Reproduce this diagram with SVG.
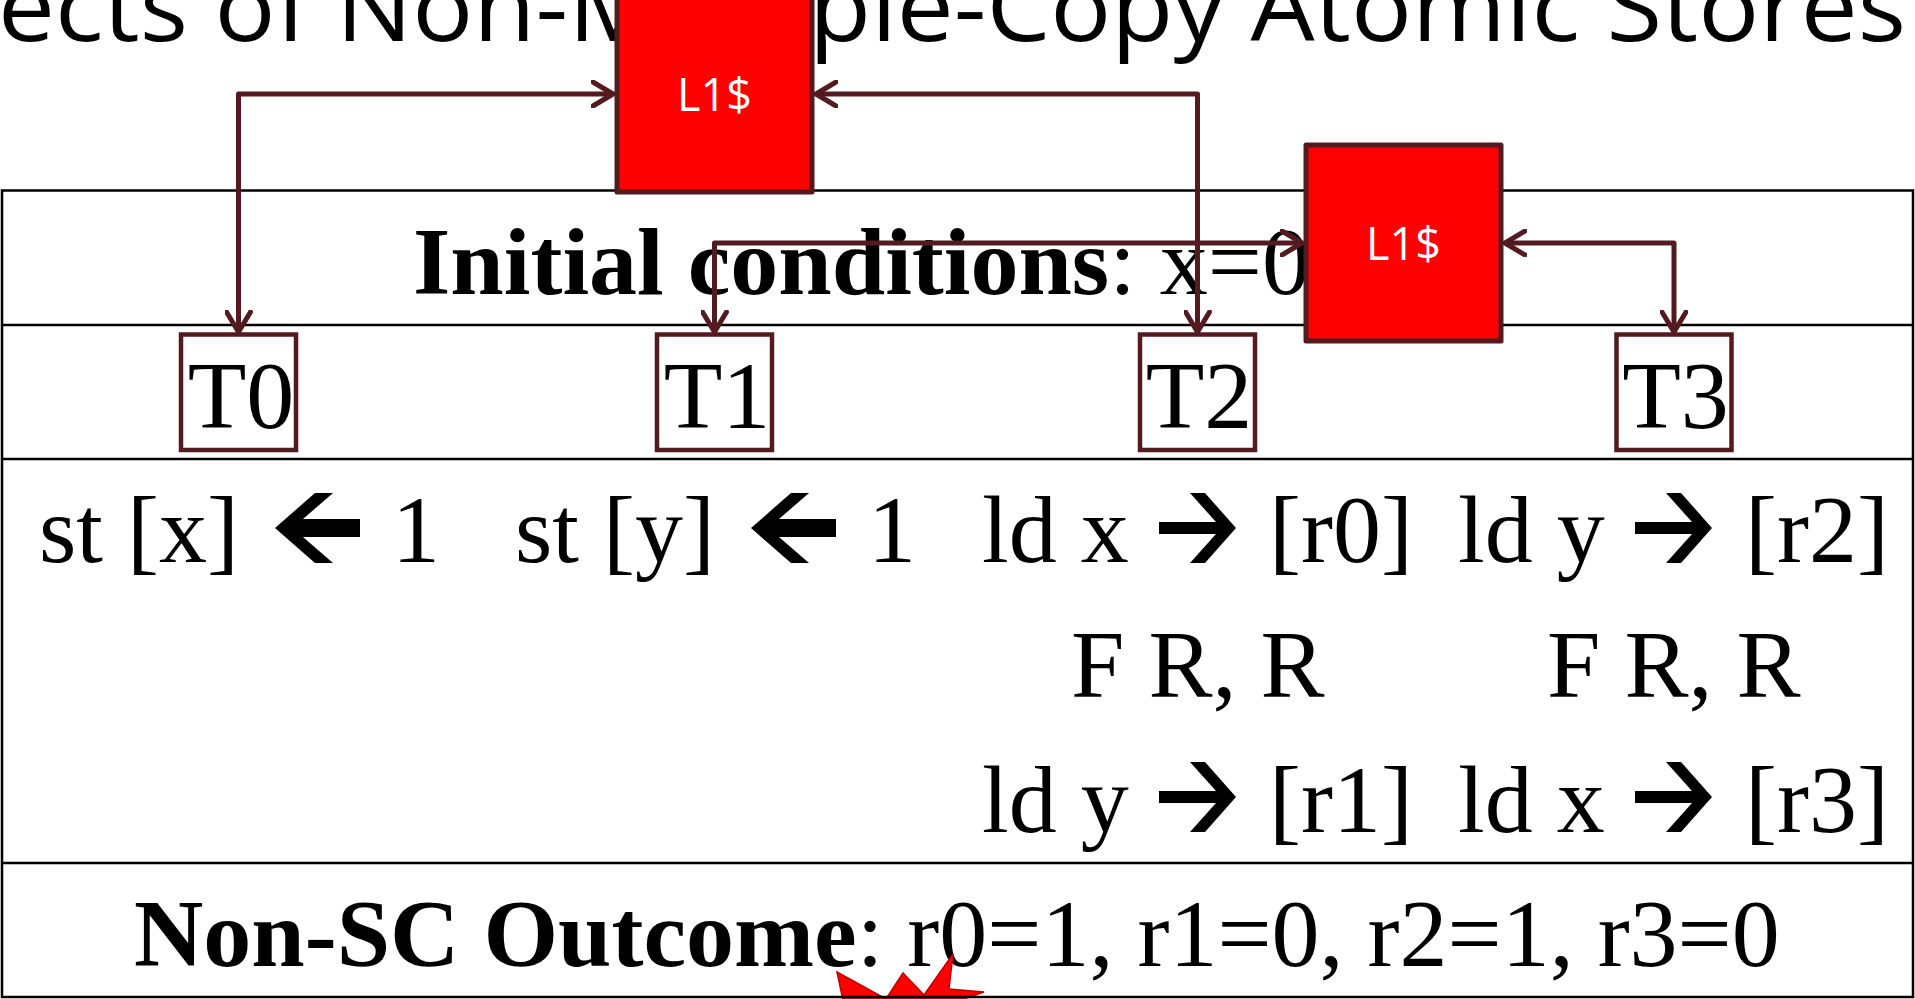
<svg xmlns="http://www.w3.org/2000/svg" width="1915" height="999" viewBox="0 0 1915 999">
<style>
.title{font-family:"Open Sans","Liberation Sans",sans-serif;font-weight:400;font-size:96px;fill:#000}
.tt{font-family:"Liberation Serif","Times New Roman",serif;font-size:96px;fill:#000}
.b{font-weight:bold}
.grid{stroke:#000;stroke-width:2.5;fill:none}
.conn{stroke:#531B1F;stroke-width:5;fill:none;stroke-linejoin:round}
.tbox{fill:#fff;stroke:#531B1F;stroke-width:4.5}
.cache{fill:#FF0000;stroke:#531B1F;stroke-width:5;stroke-linejoin:round}
.ctext{font-family:"Open Sans","Liberation Sans",sans-serif;font-size:45px;fill:#fff;text-anchor:middle}
.ttext{text-anchor:middle}
</style>
<defs>
<marker id="ah" viewBox="-22 -14 26 28" markerWidth="26" markerHeight="28" refX="0" refY="0" markerUnits="userSpaceOnUse" orient="auto-start-reverse">
<path d="M-20,-12 L0,0 L-20,12" fill="none" stroke="#531B1F" stroke-width="5" stroke-linecap="round" stroke-linejoin="round"/>
</marker>
<path id="larr" d="M0,0 L40,-35 L58,-35 L28,-9 L85,-9 L85,9 L28,9 L58,35 L40,35 Z" fill="#000"/>
<path id="rarr" d="M0,0 L-31,-35 L-46,-35 L-20,-6 L-77,-6 L-77,6 L-20,6 L-46,35 L-31,35 Z" fill="#000"/>
</defs>
<rect width="1915" height="999" fill="#fff"/>
<text class="title" x="-2" y="41" textLength="1908" lengthAdjust="spacingAndGlyphs">ects of Non-Multiple-Copy Atomic Stores</text>
<g id="table-text">
<text class="tt" x="413" y="294"><tspan class="b">Initial conditions</tspan>: x=0</text>
<text class="tt" x="39" y="562">st [x]</text>
<use href="#larr" x="275" y="528"/>
<text class="tt" x="392" y="562">1</text>
<text class="tt" x="515" y="562">st [y]</text>
<use href="#larr" x="751" y="528"/>
<text class="tt" x="868" y="562">1</text>
<text class="tt" x="982" y="562">ld x</text>
<use href="#rarr" x="1236" y="528"/>
<text class="tt" x="1269" y="562">[r0]</text>
<text class="tt" x="1458" y="562">ld y</text>
<use href="#rarr" x="1712" y="528"/>
<text class="tt" x="1745" y="562">[r2]</text>
<text class="tt" x="1071" y="697">F R, R</text>
<text class="tt" x="1547" y="697">F R, R</text>
<text class="tt" x="982" y="832">ld y</text>
<use href="#rarr" x="1236" y="797"/>
<text class="tt" x="1269" y="832">[r1]</text>
<text class="tt" x="1458" y="832">ld x</text>
<use href="#rarr" x="1712" y="797"/>
<text class="tt" x="1745" y="832">[r3]</text>
<text class="tt" x="134" y="966"><tspan class="b">Non-SC Outcome</tspan>: r0=1, r1=0, r2=1, r3=0</text>
</g>
<path id="starburst" d="M845,1010 L837,972 L886,999 L903,973 L924,995 L953,954 L949,989 L984,992 L952,1003 L960,1040 L850,1040 Z" fill="#FF0000" stroke="#C00000" stroke-width="1.5"/>
<g id="table-lines" class="grid">
<rect x="2" y="190.5" width="1911" height="806.5"/>
<line x1="2" y1="325" x2="1913" y2="325"/>
<line x1="2" y1="459" x2="1913" y2="459"/>
<line x1="2" y1="863" x2="1913" y2="863"/>
</g>
<g id="connectors" class="conn">
<path d="M238.5,332 V94 H613" marker-start="url(#ah)" marker-end="url(#ah)"/>
<path d="M816,94 H1197.5 V332" marker-start="url(#ah)" marker-end="url(#ah)"/>
<path d="M714.5,332 V243 H1302" marker-start="url(#ah)" marker-end="url(#ah)"/>
<path d="M1505,243 H1674 V332" marker-start="url(#ah)" marker-end="url(#ah)"/>
</g>
<g id="T0"><rect class="tbox" x="181" y="334.5" width="115" height="115.5"/><text class="tt ttext" x="241" y="428">T0</text></g>
<g id="T1"><rect class="tbox" x="657" y="334.5" width="115" height="115.5"/><text class="tt ttext" x="717" y="428">T1</text></g>
<g id="T2"><rect class="tbox" x="1140" y="334.5" width="115" height="115.5"/><text class="tt ttext" x="1199" y="428">T2</text></g>
<g id="T3"><rect class="tbox" x="1616.5" y="334.5" width="115" height="115.5"/><text class="tt ttext" x="1675.5" y="428">T3</text></g>
<g id="L1-top"><rect class="cache" x="617" y="-3" width="195" height="195"/><text class="ctext" x="714.5" y="111">L1$</text></g>
<g id="L1-right"><rect class="cache" x="1306" y="145" width="195" height="196"/><text class="ctext" x="1403.5" y="260">L1$</text></g>
</svg>
